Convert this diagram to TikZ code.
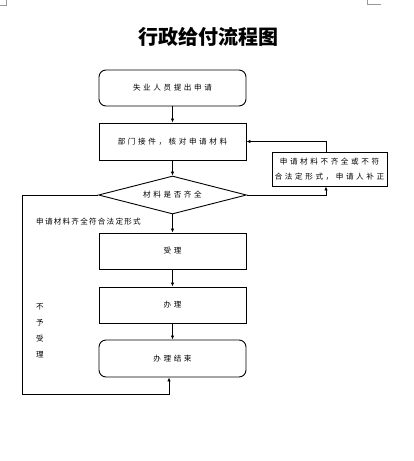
\documentclass[tikz,border=0pt]{standalone}
\usepackage{fontspec}
\setmainfont{Liberation Serif}
\newfontfamily\cjk[LetterSpace=34]{Noto Sans CJK SC}
\newfontfamily\cjktight[LetterSpace=16]{Noto Sans CJK SC}
\newfontfamily\cjktitle{Noto Sans CJK SC}
\usetikzlibrary{shapes.geometric,arrows.meta}
\tikzset{
  stepbox/.style={draw,line width=0.9pt,minimum width=147pt,minimum height=36pt,
    inner sep=0pt,font=\cjk\fontsize{7.6}{8}\selectfont},
  roundbox/.style={stepbox,rounded corners=7pt},
  decision/.style={diamond,draw,line width=0.9pt,aspect=3.9,inner sep=0pt,
    minimum width=148pt,minimum height=38pt,font=\cjk\fontsize{7.6}{8}\selectfont},
  notebox/.style={draw,line width=0.9pt,minimum width=115pt,minimum height=34pt,
    inner sep=0pt,align=center,font=\cjk\fontsize{7.6}{15}\selectfont},
  note/.style={font=\cjktight\fontsize{7.6}{8}\selectfont},
  link/.style={draw,line width=0.8pt,-{Latex[length=4pt,width=3.5pt]}},
  margin/.style={draw=black!40,line width=0.7pt}
}
\begin{document}
\begin{tikzpicture}[x=1pt,y=-1pt]
  \fill[white] (0,0) rectangle (413,461);
  \useasboundingbox (0,0) rectangle (413,461);
  % page margin marks
  \draw[margin] (0,5) -- (6,5) -- (6,0);
  \draw[margin] (367,0) -- (367,4) -- (381,4);
  \node[font=\cjktitle\bfseries\fontsize{20}{22}\selectfont] (title) at (208,37) {行政给付流程图};
  % main column
  \node[roundbox] (apply) at (172.5,88) {失业人员提出申请};
  \node[stepbox,minimum height=37pt] (receive) at (172.5,141.5) {部门接件，核对申请材料};
  \node[decision] (check) at (172.5,195) {材料是否齐全};
  \node[stepbox] (accept) at (172.5,251) {受理};
  \node[stepbox] (handle) at (172.5,305) {办理};
  \node[roundbox,minimum height=37pt] (finish) at (172.5,358.5) {办理结束};
  \node[notebox] (fix) at (329.5,169) {申请材料不齐全或不符\\合法定形式，申请人补正};
  % labels
  \node[note,anchor=west,inner sep=0pt] (yes) at (36,222) {申请材料齐全符合法定形式};
  \node[note,align=center,font=\cjk\fontsize{7.6}{16}\selectfont] (no) at (40,331) {不\\予\\受\\理};
  % connectors
  \coordinate (leftdown) at (22,394);
  \draw[link] (apply) -- (receive);
  \draw[link] (receive) -- (check);
  \draw[link] (check) -- (accept);
  \draw[link] (accept) -- (handle);
  \draw[link] (handle) -- (finish);
  \draw[link] (check.east) -| ([xshift=-3.5pt]fix.south);
  \draw[link] ([xshift=-3.5pt]fix.north) |- (receive.east);
  \draw[link] (check.west) -| (leftdown) -| ([xshift=-3.5pt]finish.south);
\end{tikzpicture}
\end{document}
